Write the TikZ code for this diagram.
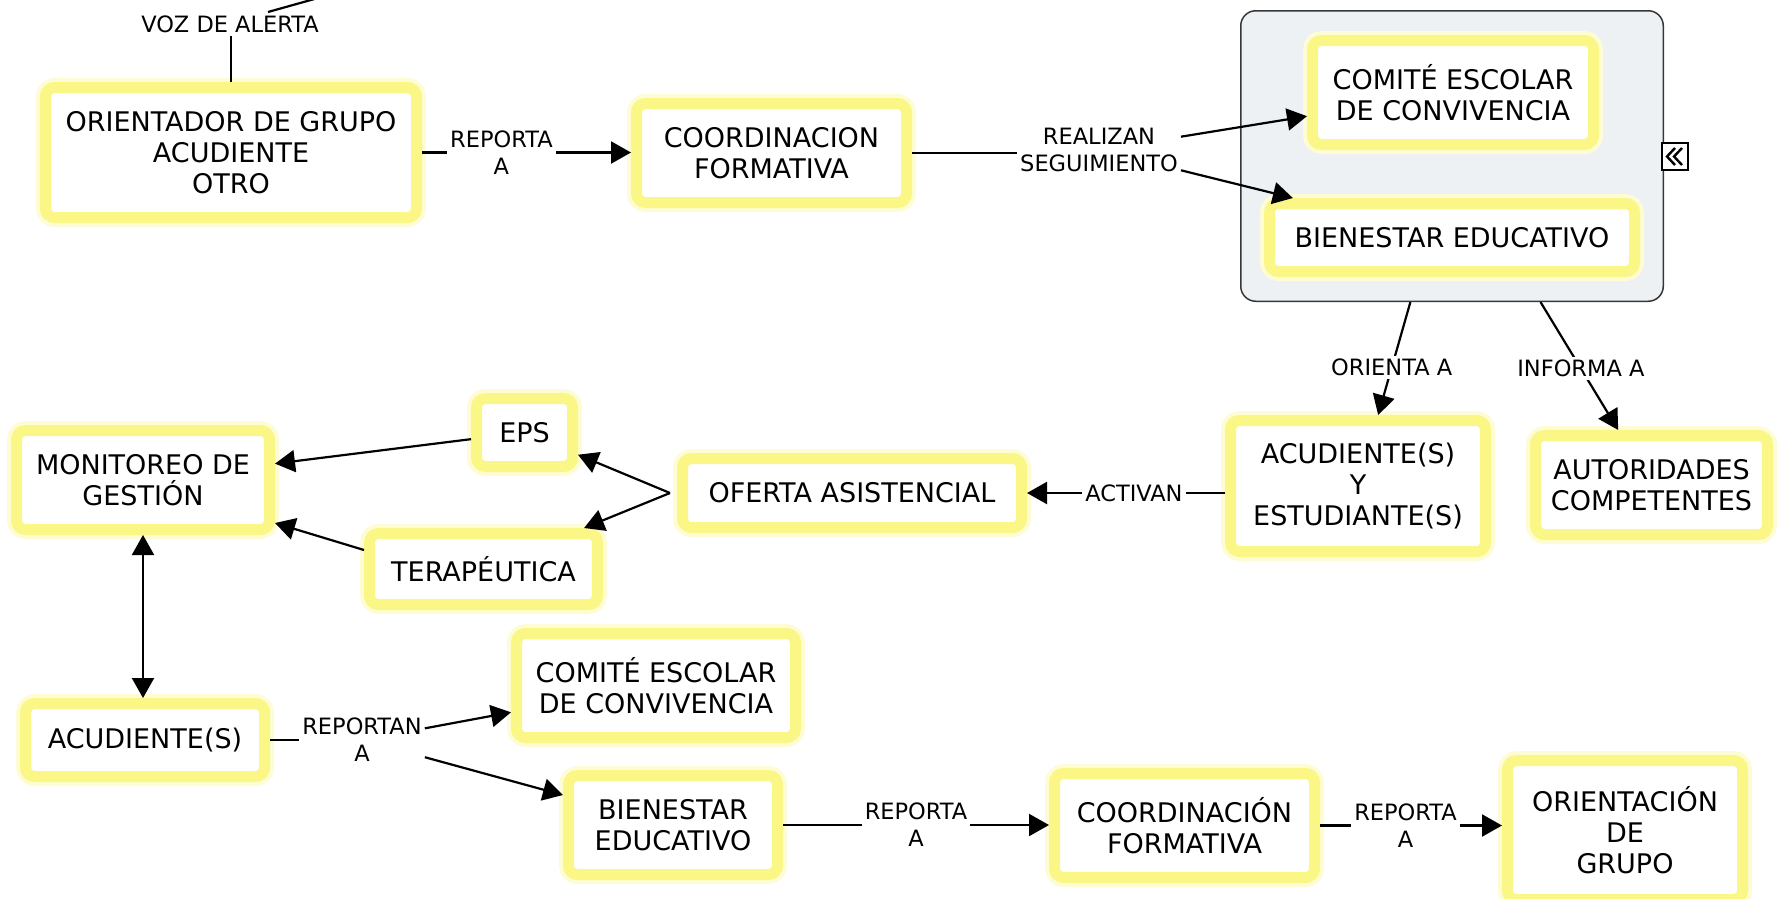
\documentclass[tikz,border=0pt]{standalone}
\usepackage{fontspec}
\setmainfont{DejaVu Sans}
\usetikzlibrary{arrows.meta}
\definecolor{ylw}{RGB}{250,247,135}
\definecolor{ylwglow}{RGB}{253,252,212}
\definecolor{grpfill}{RGB}{237,241,244}
\definecolor{grpline}{RGB}{55,55,55}
\tikzset{
  box/.style={draw=ylw, line width=11pt, fill=white, rounded corners=9pt, outer sep=5.5pt,
    inner sep=2pt, align=center, text=black, font=\fontsize{27}{31}\selectfont,
    preaction={draw=ylwglow, line width=19pt}},
  lbl/.style={fill=white, inner sep=3pt, align=center, font=\fontsize{22.5}{27}\selectfont},
  conn/.style={line width=2.2pt, draw=black},
  arr/.style={conn, -{Triangle[length=20pt,width=22pt]}},
  arrboth/.style={conn, {Triangle[length=20pt,width=22pt]}-{Triangle[length=20pt,width=22pt]}},
}
\begin{document}
\begin{tikzpicture}[x=1pt,y=-1pt]
\useasboundingbox (0,0) rectangle (1777,898);

% container
\node[draw=grpline, fill=grpfill, line width=1.5pt, rounded corners=15pt,
      minimum width=422.5pt, minimum height=290.5pt, inner sep=0pt] (grp) at (1452,156) {};
\draw[line width=1.2pt, fill=white] (1662,143) rectangle (1688,170);
\draw[line width=2.4pt] (1675,148) -- (1667,156.5) -- (1675,165)
                        (1682,148) -- (1674,156.5) -- (1682,165);

% nodes
\node[box, minimum width=371pt, minimum height=130pt] (ori) at (231,152.5) {ORIENTADOR DE GRUPO\\ACUDIENTE\\OTRO};
\node[box, minimum width=270pt, minimum height=99pt] (cf1) at (771.5,153) {COORDINACION\\FORMATIVA};
\node[box, minimum width=281pt, minimum height=104pt] (com1) at (1453,92.5) {COMITÉ ESCOLAR\\DE CONVIVENCIA};
\node[box, minimum width=365pt, minimum height=68pt] (bie1) at (1452,237.5) {BIENESTAR EDUCATIVO};
\node[box, minimum width=255pt, minimum height=131pt] (acu) at (1358,486) {ACUDIENTE(S)\\Y\\ESTUDIANTE(S)};
\node[box, minimum width=232pt, minimum height=99pt] (aut) at (1651.5,485) {AUTORIDADES\\COMPETENTES};
\node[box, minimum width=339pt, minimum height=69pt] (of) at (852,493) {OFERTA ASISTENCIAL};
\node[box, minimum width=96pt, minimum height=68pt] (eps) at (524.5,432.5) {EPS};
\node[box, minimum width=253pt, minimum height=99pt] (mon) at (143,480) {MONITOREO DE\\GESTIÓN};
\node[box, minimum width=228pt, minimum height=71pt] (ter) at (483.5,569) {TERAPÉUTICA};
\node[box, minimum width=239pt, minimum height=73pt] (acu2) at (145,740) {ACUDIENTE(S)};
\node[box, minimum width=279pt, minimum height=104pt] (com2) at (656,685.5) {COMITÉ ESCOLAR\\DE CONVIVENCIA};
\node[box, minimum width=209pt, minimum height=99pt] (bie2) at (673,825) {BIENESTAR\\EDUCATIVO};
\node[box, minimum width=260pt, minimum height=104pt] (cf2) at (1184.5,825.5) {COORDINACIÓN\\FORMATIVA};
\node[box, minimum width=235pt, minimum height=139pt] (og) at (1625,830) {ORIENTACIÓN\\DE\\GRUPO};

% voz de alerta
\node[lbl, fill=none] (voz) at (230,24) {VOZ DE ALERTA};
\draw[conn] (ori.north) -- (ori.north |- voz.south);
\coordinate (vozA) at (268,12);
\coordinate (vozB) at (318,-2);
\draw[conn] (vozA) -- (vozB);

% connectors
\draw[arr] (ori.east) -- (ori.east -| cf1.west) node[lbl, pos=0.38] {REPORTA\\A};

\node[lbl] (rs) at (1099,150) {REALIZAN\\SEGUIMIENTO};
\draw[conn] (cf1.east) -- (cf1.east -| rs.west);
\draw[arr] (rs) -- (com1);
\draw[arr] (rs) -- (bie1);

\draw[arr] (grp) -- (acu) node[lbl, pos=0.58] {ORIENTA A};
\draw[arr] (grp) -- (aut) node[lbl, pos=0.52] {INFORMA A};

\draw[arr] (acu.west |- of.east) -- (of.east) node[lbl, pos=0.46] {ACTIVAN};

\draw[arr] ([xshift=-7pt]of.west) -- (eps);
\draw[arr] ([xshift=-7pt]of.west) -- (ter);

\draw[arr] (eps) -- (mon);
\draw[arr] ([yshift=19pt]ter.west) -- ([yshift=-43pt]mon.east);
\draw[arrboth] (mon.south) -- (mon.south |- acu2.north);

\node[lbl] (ra) at (362,740) {REPORTAN\\A};
\draw[conn] (acu2.east) -- (acu2.east -| ra.west);
\draw[arr] (ra) -- (com2);
\draw[arr] (ra) -- (bie2);

\draw[arr] (bie2.east) -- (bie2.east -| cf2.west) node[lbl, pos=0.5] {REPORTA\\A};
\draw[arr] (cf2.east) -- (cf2.east -| og.west) node[lbl, pos=0.47] {REPORTA\\A};
\end{tikzpicture}
\end{document}
